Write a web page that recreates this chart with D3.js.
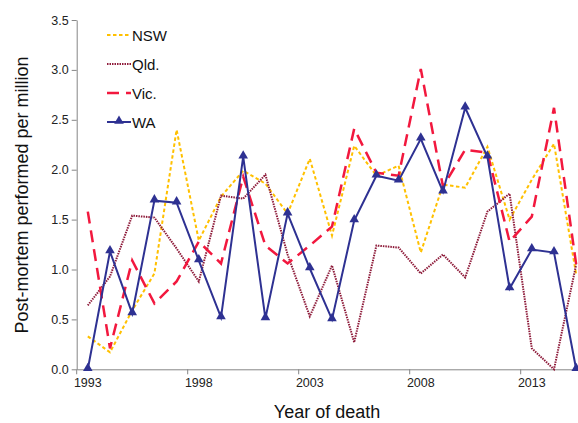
<!DOCTYPE html>
<html>
<head>
<meta charset="utf-8">
<script src="https://cdn.jsdelivr.net/npm/d3@7"></script>
<style>
  body { margin: 0; background: #fff; }
  svg { display: block; font-family: "Liberation Sans", Arial, sans-serif; }
</style>
</head>
<body>
<script>
// Years on the x axis
var years = d3.range(1993, 2016);
var tickYears = [1993, 1998, 2003, 2008, 2013];
var yTicks = [0, 0.5, 1, 1.5, 2, 2.5, 3, 3.5];

// Rates per million
var nsw = [0.33, 0.17, 0.59, 0.96, 2.40, 1.29, 1.73, 1.99, 1.86, 1.56, 2.11, 1.34, 2.24, 1.94, 2.04, 1.17, 1.85, 1.82, 2.23, 1.50, 1.90, 2.26, 0.95];
var qld = [0.64, 0.93, 1.54, 1.52, 1.21, 0.88, 1.74, 1.71, 1.95, 1.15, 0.53, 1.04, 0.27, 1.24, 1.22, 0.96, 1.15, 0.92, 1.58, 1.76, 0.21, 0.00, 1.05];
var vic = [1.58, 0.21, 1.09, 0.66, 0.88, 1.28, 1.06, 1.93, 1.24, 1.06, 1.24, 1.43, 2.41, 1.97, 1.94, 3.01, 1.83, 2.20, 2.17, 1.28, 1.53, 2.62, 1.05];
var wa  = [0.00, 1.18, 0.56, 1.69, 1.67, 1.09, 0.52, 2.13, 0.51, 1.56, 1.01, 0.50, 1.49, 1.94, 1.89, 2.31, 1.78, 2.62, 2.13, 0.81, 1.20, 1.17, 0.00];

var series = [
  {name: "NSW", values: nsw, color: "#FFC000", dash: "3.5,2.5", width: 2},
  {name: "Qld.", values: qld, color: "#8E1B3A", dash: "1.5,1", width: 2},
  {name: "Vic.", values: vic, color: "#F2183E", dash: "12,7", width: 2.5},
  {name: "WA", values: wa, color: "#2E3192", dash: null, width: 2, marker: true}
];

var width = 578, height = 423;
var plotLeft = 76.7, plotTop = 20, plotBottom = 369.3;
var step = 22.2;

var svg = d3.select("body").append("svg")
  .attr("width", width)
  .attr("height", height);

var x = d3.scaleBand()
  .domain(years)
  .range([plotLeft, plotLeft + step * years.length])
  .padding(0);

var y = d3.scaleLinear()
  .domain([0, 3.5])
  .range([plotBottom, plotTop]);

// y axis
var yAxis = svg.append("g")
  .attr("transform", "translate(" + plotLeft + ",0)")
  .call(d3.axisLeft(y).tickValues(yTicks).tickFormat(d3.format(".1f")).tickSize(5).tickSizeOuter(0));
yAxis.select(".domain").attr("stroke", "#868686");
yAxis.selectAll(".tick line").attr("stroke", "#868686");
yAxis.selectAll("text").attr("font-size", "12.5px").attr("fill", "#222").attr("x", -8)
  .attr("font-family", "Liberation Sans, Arial, sans-serif");

// x axis, ticks sit between categories
var xAxis = svg.append("g")
  .attr("transform", "translate(0," + plotBottom + ")")
  .call(d3.axisBottom(x).tickValues(tickYears).tickSize(5).tickSizeOuter(0));
xAxis.select(".domain").attr("stroke", "#868686");
xAxis.selectAll(".tick line").attr("stroke", "#868686")
  .attr("x1", -x.bandwidth() / 2).attr("x2", -x.bandwidth() / 2);
xAxis.selectAll("text").attr("font-size", "12.5px").attr("fill", "#222").attr("y", 9)
  .attr("font-family", "Liberation Sans, Arial, sans-serif");

function cx(i) { return x(years[i]) + x.bandwidth() / 2; }

var line = d3.line()
  .x((d, i) => cx(i))
  .y(d => y(d));

// Lines
series.forEach(function(s) {
  svg.append("path")
    .datum(s.values)
    .attr("d", line)
    .attr("fill", "none")
    .attr("stroke", s.color)
    .attr("stroke-width", s.width)
    .attr("stroke-dasharray", s.dash)
    .attr("stroke-linejoin", "miter");

  if (s.marker) {
    svg.selectAll("path.mk")
      .data(s.values)
      .enter()
      .append("path")
      .attr("class", "mk")
      .attr("d", d3.symbol().type(d3.symbolTriangle).size(40))
      .attr("transform", (d, i) => "translate(" + cx(i) + "," + (y(d) - 1) + ")")
      .attr("fill", s.color);
  }
});

// Legend
var legend = svg.append("g");
series.forEach(function(s, i) {
  var ly = 35 + i * 29;
  legend.append("line")
    .attr("x1", 107).attr("x2", 131)
    .attr("y1", ly).attr("y2", ly)
    .attr("stroke", s.color)
    .attr("stroke-width", s.width)
    .attr("stroke-dasharray", s.dash);
  if (s.marker) {
    legend.append("path")
      .attr("d", d3.symbol().type(d3.symbolTriangle).size(40))
      .attr("transform", "translate(119," + (ly - 1) + ")")
      .attr("fill", s.color);
  }
  legend.append("text")
    .text(s.name)
    .attr("x", 132)
    .attr("y", ly + 5.5)
    .attr("font-size", "15px")
    .attr("fill", "#111");
});

// Axis titles
svg.append("text")
  .text("Year of death")
  .attr("x", 327)
  .attr("y", 418)
  .attr("text-anchor", "middle")
  .attr("font-size", "18px")
  .attr("fill", "#111");

svg.append("text")
  .text("Post-mortem performed per million")
  .attr("transform", "translate(28,195) rotate(-90)")
  .attr("text-anchor", "middle")
  .attr("font-size", "18px")
  .attr("fill", "#111");
</script>
</body>
</html>
